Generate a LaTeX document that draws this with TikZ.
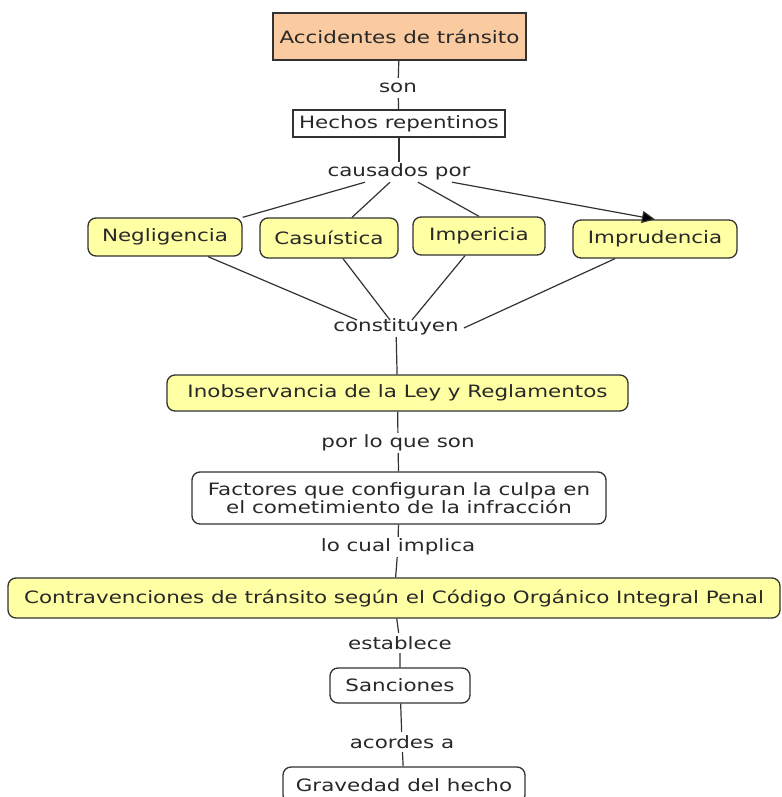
\documentclass[tikz,border=0pt]{standalone}
\usepackage{fontspec}
\setmainfont{DejaVu Sans}[FakeStretch=1.26]
\usetikzlibrary{arrows.meta,calc}
\definecolor{peach}{RGB}{250,202,160}
\definecolor{cyellow}{RGB}{255,255,164}
\definecolor{ink}{RGB}{40,40,40}
\definecolor{edge}{RGB}{50,50,50}
\tikzset{
  base/.style={draw=edge,line width=1.3pt,text=ink,inner sep=0pt,align=center,
    font=\fontsize{17}{18.5}\selectfont},
  sqbox/.style={base},
  rbox/.style={base,rounded corners=8pt},
  lbl/.style={text=ink,inner sep=0pt,minimum height=20pt,font=\fontsize{17}{18.5}\selectfont},
  conn/.style={draw=edge,line width=1.2pt},
}
\begin{document}
\begin{tikzpicture}[x=1pt,y=-1pt]
\useasboundingbox (0,0) rectangle (781,797);
% concepts
\node[sqbox,fill=peach,minimum width=253pt,minimum height=47pt] (acc) at (399.5,36.5) {Accidentes de tránsito};
\node[sqbox,fill=white,minimum width=212pt,minimum height=27pt] (hech) at (399,123.5) {Hechos repentinos};
\node[rbox,fill=cyellow,minimum width=154pt,minimum height=38pt] (neg) at (165,237) {Negligencia};
\node[rbox,fill=cyellow,minimum width=138pt,minimum height=40pt] (cas) at (329,238) {Casuística};
\node[rbox,fill=cyellow,minimum width=132pt,minimum height=38pt] (imp) at (479,236) {Impericia};
\node[rbox,fill=cyellow,minimum width=164pt,minimum height=38pt] (impr) at (655,239) {Imprudencia};
\node[rbox,fill=cyellow,minimum width=461pt,minimum height=36pt] (inob) at (397.5,393) {Inobservancia de la Ley y Reglamentos};
\node[rbox,fill=white,minimum width=414pt,minimum height=52pt] (fact) at (399,498) {Factores que configuran la culpa en\\el cometimiento de la infracción};
\node[rbox,fill=cyellow,minimum width=772pt,minimum height=40pt] (contra) at (394,598) {Contravenciones de tránsito según el Código Orgánico Integral Penal};
\node[rbox,fill=white,minimum width=140pt,minimum height=35pt] (sanc) at (400,685.5) {Sanciones};
\node[rbox,fill=white,minimum width=242pt,minimum height=36pt] (grav) at (404,785) {Gravedad del hecho};
% linking phrases
\node[lbl] (son) at (398,88) {son};
\node[lbl] (caus) at (399,172) {causados por};
\node[lbl] (const) at (396,327) {constituyen};
\node[lbl] (plqs) at (398,443) {por lo que son};
\node[lbl] (lci) at (398,547) {lo cual implica};
\node[lbl] (est) at (400,643) {establece};
\node[lbl] (acor) at (402,742) {acordes a};
% connectors
\draw[conn] (acc) -- (son) -- (hech);
\draw[conn] (hech) -- (caus);
\draw[conn] ($(caus.south)+(-34,0)$) -- (neg.north east);
\draw[conn] ($(caus.south)+(-9,0)$) -- ($(cas.north)+(23,0)$);
\draw[conn] ($(caus.south)+(19,0)$) -- (imp.north);
\draw[conn,-{Triangle[length=13pt,width=12pt]},arrows={[fill=black]}] ($(caus.south)+(53,0)$) -- (impr.north);
\draw[conn] ($(neg.south)+(43,0)$) -- ($(const.center)+(-39,-7)$);
\draw[conn] ($(cas.south)+(14,0)$) -- ($(const.center)+(-6,-7)$);
\draw[conn] ($(imp.south)+(-14,0)$) -- ($(const.center)+(16,-7)$);
\draw[conn] ($(impr.south)+(-40,0)$) -- ($(const.east)+(5,1)$);
\draw[conn] (const) -- (inob);
\draw[conn] (inob) -- (plqs) -- (fact);
\draw[conn] (fact) -- (lci) -- (contra);
\draw[conn] (contra) -- (est) -- (sanc);
\draw[conn] (sanc) -- (acor) -- (grav);
\end{tikzpicture}
\end{document}
